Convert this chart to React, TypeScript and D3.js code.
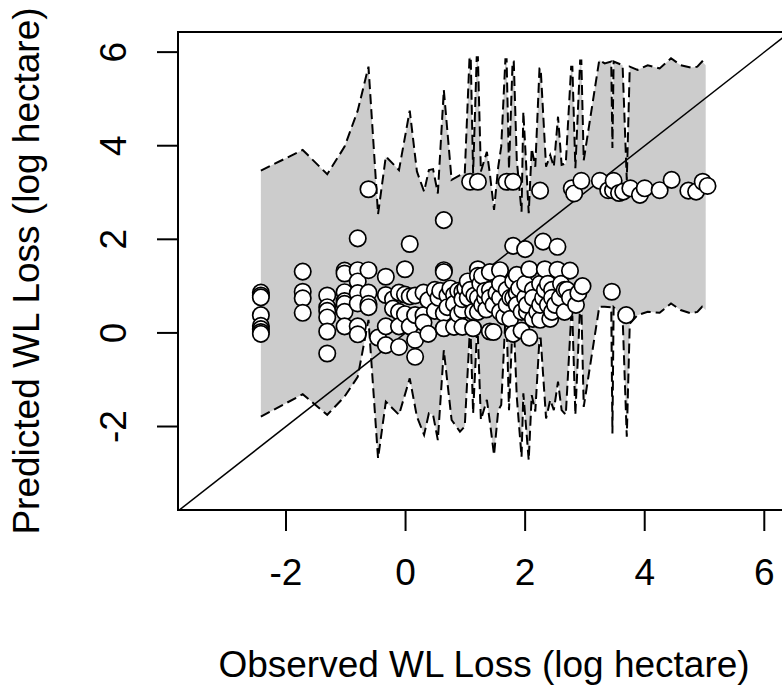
import React from 'react';
import * as d3 from 'd3';

const xTicks = [-2, 0, 2, 4, 6];
const yTicks = [-2, 0, 2, 4, 6];

// prediction interval (sorted by observed value)
const bandX = [
  -2.42, -1.72, -1.31, -1.02, -0.80, -0.62, -0.46, -0.33, -0.11, 0.07,
  0.19, 0.31, 0.39, 0.46, 0.54, 0.64, 0.77, 0.91, 0.99, 1.07,
  1.09, 1.13, 1.19, 1.21, 1.26, 1.36, 1.41, 1.48, 1.55, 1.60,
  1.67, 1.69, 1.73, 1.79, 1.81, 1.86, 1.94, 1.97, 2.06, 2.11,
  2.17, 2.24, 2.26, 2.35, 2.42, 2.48, 2.55, 2.61, 2.68, 2.77,
  2.79, 2.84, 2.92, 2.94, 2.98, 3.24, 3.33, 3.44, 3.46, 3.48,
  3.63, 3.70, 3.75, 3.88, 4.05, 4.25, 4.44, 4.60, 4.77, 4.88,
  4.96, 5.02,
];
const bandUpper = [
  3.47, 3.91, 3.39, 3.98, 4.75, 5.69, 2.54, 3.77, 3.48, 4.75,
  3.45, 3.02, 3.48, 3.50, 2.98, 5.19, 3.27, 3.37, 3.40, 5.89,
  5.89, 3.41, 5.89, 5.89, 3.45, 3.87, 3.40, 2.63, 3.55, 3.98,
  5.85, 5.85, 3.50, 5.80, 5.80, 3.70, 2.59, 4.73, 2.56, 3.94,
  3.55, 5.65, 5.65, 3.55, 3.80, 3.55, 4.62, 3.59, 3.62, 5.69,
  5.69, 3.52, 5.82, 5.82, 3.69, 5.83, 5.76, 5.80, 3.95, 5.80,
  5.72, 3.27, 5.69, 5.62, 5.72, 5.65, 5.87, 5.72, 5.67, 5.69,
  5.80, 5.72,
];
const bandLower = [
  -1.79, -1.31, -1.75, -1.36, -0.94, 0.28, -2.68, -1.47, -1.75, -0.97,
  -1.79, -2.18, -1.72, -1.75, -2.29, -0.37, -1.86, -2.11, -2.00, -0.08,
  -0.08, -1.72, -0.08, -0.08, -1.86, -1.43, -1.90, -2.61, -1.65, -1.54,
  0.31, 0.31, -1.65, 0.20, 0.20, -1.36, -2.65, -1.29, -2.72, -1.33,
  -1.68, -0.12, -0.12, -1.83, -1.43, -1.65, -1.04, -1.65, -1.75, 0.35,
  0.35, -1.75, 0.60, 0.60, -1.58, 0.56, 0.56, 0.55, -2.15, 0.55,
  0.35, -2.22, 0.20, 0.38, 0.45, 0.43, 0.63, 0.49, 0.42, 0.45,
  0.56, 0.49,
];

// observed vs predicted points
const obsX = [
  -2.42, -2.42, -2.42, -2.42, -2.42, -2.42, -2.42, -2.42,
  -1.72, -1.72, -1.72, -1.72,
  -1.31, -1.31, -1.31, -1.31, -1.31, -1.31,
  -1.02, -1.02, -1.02, -1.02, -1.02, -1.02, -1.02,
  -0.80, -0.80, -0.80, -0.80, -0.80, -0.80, -0.80,
  -0.62, -0.62, -0.62, -0.62, -0.62,
  -0.46,
  -0.33, -0.33, -0.33, -0.33,
  -0.21, -0.21,
  -0.11, -0.11, -0.11, -0.11,
  -0.01, -0.01, -0.01,
  0.07, 0.07, 0.07,
  0.16, 0.16, 0.16, 0.16,
  0.30, 0.30, 0.30,
  0.38, 0.38,
  0.49, 0.49,
  0.55, 0.58,
  0.64, 0.64, 0.64, 0.64, 0.64,
  0.70, 0.70, 0.75,
  0.81, 0.81, 0.81,
  0.88, 0.88,
  0.95, 0.95, 0.95, 0.95, 1.00,
  1.04, 1.04,
  1.08, 1.08,
  1.13, 1.13, 1.15,
  1.21, 1.21, 1.21, 1.21, 1.21, 1.25,
  1.28, 1.28,
  1.33, 1.33, 1.35,
  1.41, 1.41, 1.41, 1.41,
  1.47, 1.47, 1.52,
  1.58, 1.58, 1.58, 1.58,
  1.65, 1.69, 1.69, 1.69,
  1.75, 1.75,
  1.80, 1.80, 1.80, 1.80, 1.80,
  1.86, 1.86, 1.86, 1.90,
  1.94, 1.94,
  2.00, 2.00, 2.00,
  2.03, 2.03,
  2.07, 2.07,
  2.13, 2.13, 2.13, 2.20,
  2.25, 2.25, 2.25, 2.25,
  2.30, 2.30,
  2.33, 2.33,
  2.38, 2.38, 2.42,
  2.45, 2.45, 2.45,
  2.50,
  2.54, 2.54,
  2.58, 2.60,
  2.66, 2.66,
  2.70,
  2.75, 2.75, 2.85,
  2.78, 2.82, 2.89, 2.94, 2.96,
  3.25, 3.39, 3.45, 3.47, 3.48, 3.57, 3.64, 3.69, 3.76, 3.92, 4.00, 4.25, 4.45, 4.73, 4.86, 4.97, 5.05,
];
const predY = [
  0.86, 0.80, 0.76, 0.38, 0.15, 0.08, 0.02, -0.02,
  1.31, 0.88, 0.74, 0.43,
  0.80, 0.55, 0.47, 0.33, 0.03, -0.44,
  1.33, 1.27, 0.87, 0.68, 0.62, 0.45, 0.14,
  2.02, 1.34, 1.10, 0.85, 0.63, 0.14, -0.03,
  3.07, 1.34, 0.86, 0.62, 0.55,
  -0.10,
  1.20, 0.81, 0.14, -0.26,
  0.72, 0.52,
  0.86, 0.45, 0.14, -0.30,
  1.36, 0.82, 0.40,
  1.90, 0.78, 0.14,
  0.80, 0.38, -0.15, -0.51,
  0.38, 0.22, 0.86,
  -0.02, 0.70,
  0.92, 0.47,
  0.75, 0.90,
  2.41, 1.34, 1.30, 0.42, 0.10,
  0.80, 0.55, 0.95,
  0.81, 0.13, 0.62,
  0.90, 0.40,
  0.88, 0.49, 0.13, 0.72, 0.95,
  1.10, 0.75,
  3.23, 0.92,
  0.10, 0.45, 0.80,
  3.23, 1.36, 1.22, 0.45, 0.75, 1.05,
  1.22, 0.60,
  0.75, 0.90, 0.50,
  0.92, 0.75, 0.03, 1.30,
  0.02, 0.60, 0.85,
  1.34, 0.75, 1.05, 0.45,
  0.35, 3.23, 0.92, 0.60,
  0.30, 0.75,
  3.23, 1.86, -0.02, 0.75, 1.10,
  1.24, 0.85, 0.60, 0.95,
  0.05, 0.45,
  1.79, 0.75, 1.05,
  0.45, 0.60,
  -0.10, 1.36,
  0.92, 0.30, 0.75, 0.45,
  3.04, 0.28, 1.05, 0.60,
  1.95, 0.75,
  1.36, 0.92,
  1.05, 0.60, 0.30,
  0.92, 0.45, 0.75,
  0.60,
  1.84, 1.35,
  0.75, 1.05,
  0.45, 0.92,
  0.92,
  1.33, 0.75, 0.60,
  3.09, 2.98, 0.85, 3.25, 1.00,
  3.25, 3.05, 0.88, 3.05, 3.25, 2.99, 3.02, 0.38, 3.09, 2.95, 3.09, 3.05, 3.27, 3.04, 3.02, 3.23, 3.14,
];

const xTitle = 'Observed WL Loss (log hectare)';
const yTitle = 'Predicted WL Loss (log hectare)';

export default function App() {
  const W = 782;
  const H = 688;
  const left = 178, right = 790, top = 32, bottom = 510;
  const x = d3.scaleLinear().domain([-3.806, 6.43]).range([left, right]);
  const y = d3.scaleLinear().domain([-3.784, 6.43]).range([bottom, top]);

  const idx = bandX.map((_, i) => i);
  const area = d3.area<number>()
    .x((i) => x(bandX[i]))
    .y0((i) => y(bandLower[i]))
    .y1((i) => y(bandUpper[i]));
  const upLine = d3.line<number>().x((i) => x(bandX[i])).y((i) => y(bandUpper[i]));
  const loLine = d3.line<number>().x((i) => x(bandX[i])).y((i) => y(bandLower[i]));

  const n = Math.min(obsX.length, predY.length);
  const pts = d3.range(n);
  const font = "'Liberation Sans', Arial, sans-serif";
  const fs = 37;
  const tickLen = 21;

  return (
    <svg
      width={W}
      height={H}
      style={{ position: 'absolute', left: 0, top: 0, background: '#fff' }}
      fontFamily={font}
    >
      <defs>
        <clipPath id="plotclip">
          <rect x={left} y={top} width={right - left} height={bottom - top} />
        </clipPath>
      </defs>
      <rect x={0} y={0} width={W} height={H} fill="#fff" />
      <g clipPath="url(#plotclip)">
        <path d={area(idx) || ''} fill="#cccccc" stroke="none" />
        <path d={upLine(idx) || ''} fill="none" stroke="#000" strokeWidth={2} strokeDasharray="10,5" />
        <path d={loLine(idx) || ''} fill="none" stroke="#000" strokeWidth={2} strokeDasharray="10,5" />
        <line x1={x(-5)} y1={y(-5)} x2={x(8)} y2={y(8)} stroke="#000" strokeWidth={1.5} />
        {pts.map((i) => (
          <circle key={i} cx={x(obsX[i])} cy={y(predY[i])} r={8.2} fill="#fff" stroke="#000" strokeWidth={1.7} />
        ))}
      </g>
      <rect x={left} y={top} width={right - left} height={bottom - top} fill="none" stroke="#000" strokeWidth={2} />
      {/* x axis */}
      <line x1={x(xTicks[0])} x2={x(xTicks[xTicks.length - 1])} y1={bottom} y2={bottom} stroke="#000" strokeWidth={2} />
      {xTicks.map((t) => (
        <g key={'xt' + t}>
          <line x1={x(t)} x2={x(t)} y1={bottom} y2={bottom + tickLen} stroke="#000" strokeWidth={2} />
          <text x={x(t)} y={585} textAnchor="middle" fontSize={fs} fill="#000">{String(t)}</text>
        </g>
      ))}
      {/* y axis */}
      <line x1={left} x2={left} y1={y(yTicks[0])} y2={y(yTicks[yTicks.length - 1])} stroke="#000" strokeWidth={2} />
      {yTicks.map((t) => (
        <g key={'yt' + t}>
          <line x1={left - tickLen} x2={left} y1={y(t)} y2={y(t)} stroke="#000" strokeWidth={2} />
          <text transform={`translate(126,${y(t)}) rotate(-90)`} textAnchor="middle" fontSize={fs} fill="#000">{String(t)}</text>
        </g>
      ))}
      <text x={(left + right) / 2} y={677} textAnchor="middle" fontSize={fs} fill="#000">{xTitle}</text>
      <text transform={`translate(39,${(top + bottom) / 2}) rotate(-90)`} textAnchor="middle" fontSize={fs} fill="#000">{yTitle}</text>
    </svg>
  );
}
